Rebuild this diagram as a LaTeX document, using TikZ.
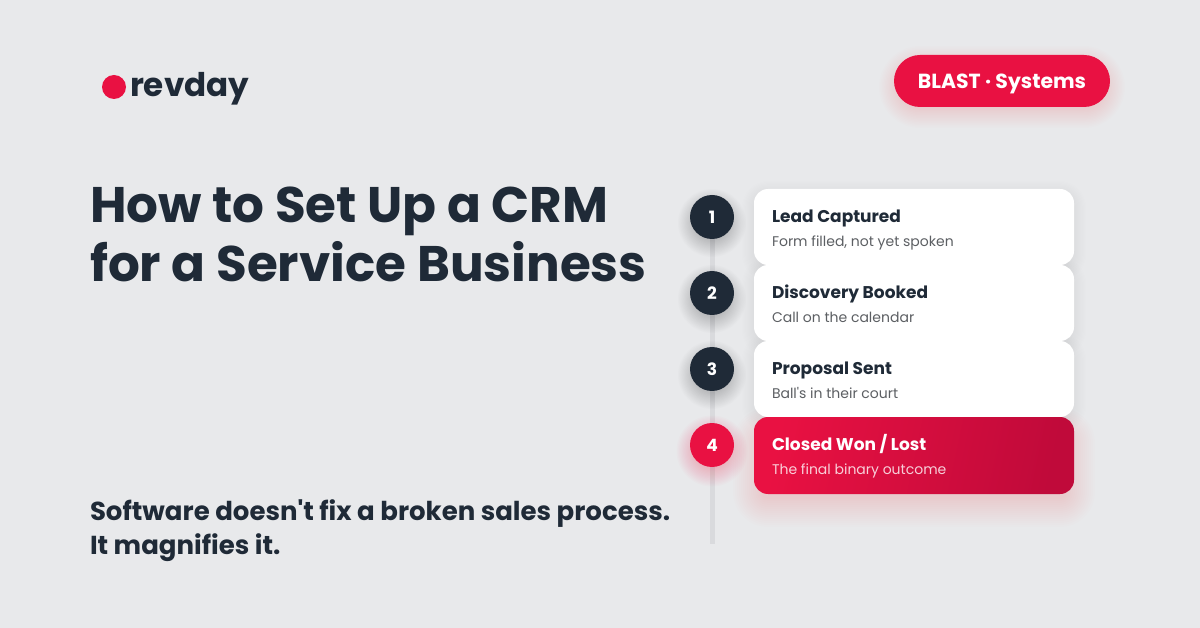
\documentclass[tikz,border=0pt]{standalone}
\usepackage{fontspec}
\newfontfamily\pop{Poppins}
\AtBeginDocument{\pop}
\usetikzlibrary{positioning}
\definecolor{bgc}{HTML}{E8E9EB}
\definecolor{ink}{HTML}{1F2A37}
\definecolor{red1}{HTML}{E91142}
\definecolor{red2}{HTML}{C00A3A}
\definecolor{subc}{HTML}{5C5F63}
\definecolor{railc}{HTML}{D9DADD}
\pgfdeclarelayer{base}
\pgfdeclarelayer{rail}
\pgfsetlayers{base,rail,main}
\newcommand{\softshadow}[8]{% x0 y0 x1 y1 radius colour spread step-opacity
  \foreach \s in {0,...,14}{
    \pgfmathsetmacro{\e}{#7*(1-\s/14)-#7*0.25}
    \pgfmathsetmacro{\rr}{max(#5+\e,1)}
    \fill[#6,fill opacity=#8,rounded corners=\rr pt] ({#1-\e},{#2-\e}) rectangle ({#3+\e},{#4+\e});
  }
}
\tikzset{
  every node/.style={inner sep=0pt,outer sep=0pt},
  cardbox/.style={fill=white,rounded corners=14pt,minimum width=320pt,minimum height=76pt,anchor=north west},
  wincard/.style={rounded corners=14pt,minimum width=320pt,minimum height=77pt,anchor=north west,left color=red1,right color=red2,shading angle=78},
  stepdot/.style={circle,minimum size=44pt,fill=ink,text=white,font=\fontsize{17}{20}\selectfont\bfseries},
  windot/.style={stepdot,fill=red1},
  cardtitle/.style={anchor=base west,text=ink,font=\fontsize{17}{20}\selectfont\bfseries},
  cardsub/.style={anchor=base west,text=subc,font=\fontsize{14}{17}\selectfont},
  headline/.style={anchor=base west,text=ink,font=\fontsize{50}{58}\selectfont\bfseries},
  tagline/.style={anchor=base west,text=ink,font=\fontsize{26}{38}\selectfont\bfseries},
}
\begin{document}
\begin{tikzpicture}[x=1pt,y=-1pt]
\useasboundingbox (0,0) rectangle (1200,628);
\begin{pgfonlayer}{base}
\fill[bgc] (0,0) rectangle (1200,628);
\end{pgfonlayer}

% logo
\node[circle,fill=red1,minimum size=24pt] (logodot) at (114,87) {};
\node[anchor=base west,text=ink,font=\fontsize{32.6}{36}\selectfont\bfseries] (logo) at (130,97) {revday};

% pill
\softshadow{894}{61}{1110}{113}{26}{red1}{20}{0.007}
\node[fill=red1,rounded corners=26pt,minimum width=216pt,minimum height=52pt,anchor=north west] (pill) at (894,55) {};
\node[anchor=base,text=white,font=\fontsize{20.4}{24}\selectfont\bfseries] (pilltext) at (1002,88.5) {BLAST · Systems};

% headline
\node[headline] (title1) at (90,223) {How to Set Up a CRM};
\node[headline] (title2) at (90,282) {for a Service Business};

% tagline
\node[tagline] (tag1) at (90,520) {Software doesn't fix a broken sales process.};
\node[tagline] (tag2) at (90,554.5) {It magnifies it.};

% shadows
\softshadow{754}{193}{1074}{269}{14}{black}{16}{0.002}
\softshadow{754}{269}{1074}{345}{14}{black}{16}{0.002}
\softshadow{754}{345}{1074}{421}{14}{black}{16}{0.002}
\softshadow{754}{429}{1074}{506}{14}{red1}{28}{0.009}
\softshadow{690}{201}{734}{245}{22}{black}{16}{0.010}
\softshadow{690}{277}{734}{321}{22}{black}{16}{0.010}
\softshadow{690}{353}{734}{397}{22}{black}{16}{0.010}
\softshadow{690}{429}{734}{473}{22}{red1}{18}{0.014}

% step dots
\node[stepdot] (n1) at (712,217) {1};
\node[stepdot] (n2) at (712,293) {2};
\node[stepdot] (n3) at (712,369) {3};
\node[windot]  (n4) at (712,445) {4};
\coordinate (railend) at (712,544);
\begin{pgfonlayer}{rail}
\draw[railc,line width=5pt] (n1.center) -- (n2.center) -- (n3.center) -- (n4.center) -- (railend);
\end{pgfonlayer}

% cards
\node[cardbox] (c1) at (754,189) {};
\node[cardbox] (c2) at (754,265) {};
\node[cardbox] (c3) at (754,341) {};
\node[wincard] (c4) at (754,417) {};

\node[cardtitle] (t1) at (772,222.4) {Lead Captured};
\node[cardsub]   (s1) at (772,246.4) {Form filled, not yet spoken};
\node[cardtitle] (t2) at (772,298.4) {Discovery Booked};
\node[cardsub]   (s2) at (772,322.4) {Call on the calendar};
\node[cardtitle] (t3) at (772,374.4) {Proposal Sent};
\node[cardsub]   (s3) at (772,398.4) {Ball's in their court};
\node[cardtitle,text=white] (t4) at (772,450.4) {Closed Won / Lost};
\node[cardsub,text=white,text opacity=0.8] (s4) at (772,474.4) {The final binary outcome};
\end{tikzpicture}
\end{document}
